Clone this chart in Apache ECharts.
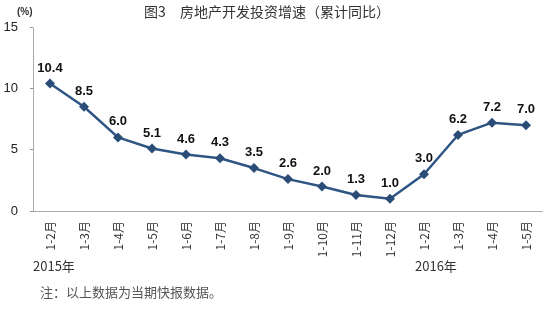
<!DOCTYPE html>
<html><head><meta charset="utf-8">
<script src="https://cdn.jsdelivr.net/npm/echarts@6/dist/echarts.min.js"></script>
<style>html,body{margin:0;padding:0;background:#fff}#c{width:550px;height:335px}</style>
</head><body><div id="c"></div>
<script>
const categories = ['1-2月','1-3月','1-4月','1-5月','1-6月','1-7月','1-8月','1-9月','1-10月','1-11月','1-12月','1-2月','1-3月','1-4月','1-5月'];
const growth = [10.4, 8.5, 6.0, 5.1, 4.6, 4.3, 3.5, 2.6, 2.0, 1.3, 1.0, 3.0, 6.2, 7.2, 7.0];
const yTicks = [0, 5, 10, 15];
const titleText = '图3　房地产开发投资增速（累计同比）';
const unitText = '(%)';
const yearLabels = ['2015年', '2016年'];
const noteText = '注：以上数据为当期快报数据。';

const chart = echarts.init(document.getElementById('c'));
const cjk = '"Noto Sans CJK SC", sans-serif';
chart.setOption({
  animation: false,
  title: {text: titleText, left: 262, top: 0, textAlign: 'center',
    textStyle: {fontSize: 14, fontWeight: 'normal', color: '#333', fontFamily: cjk}},
  grid: {left: 33, right: 7, top: 27, bottom: 124, containLabel: false},
  xAxis: {
    type: 'category', data: categories, boundaryGap: true,
    axisLine: {lineStyle: {color: '#999', type: 'dotted', width: 1}},
    axisTick: {inside: true, length: 3, lineStyle: {color: '#999'}},
    axisLabel: {rotate: 90, margin: 10, fontSize: 12, color: '#333', fontFamily: cjk, interval: 0}
  },
  yAxis: {
    type: 'value', min: yTicks[0], max: yTicks[yTicks.length-1], interval: 5,
    axisLine: {show: true, lineStyle: {color: '#999', type: 'dotted', width: 1}},
    axisTick: {show: true, length: 3, lineStyle: {color: '#999'}},
    splitLine: {show: false},
    axisLabel: {fontSize: 13, color: '#222', fontFamily: 'Arial, "Liberation Sans", sans-serif', margin: 15}
  },
  graphic: [
    {type: 'text', left: 17, top: 7, style: {text: unitText, fontSize: 10, fontWeight: 'bold', fill: '#333', fontFamily: 'Arial, "Liberation Sans", sans-serif'}},
    {type: 'text', left: 33, top: 260, style: {text: yearLabels[0], fontSize: 13, fill: '#333', fontFamily: cjk}},
    {type: 'text', left: 415, top: 260, style: {text: yearLabels[1], fontSize: 13, fill: '#333', fontFamily: cjk}},
    {type: 'text', left: 40, top: 286, style: {text: noteText, fontSize: 13, fill: '#555', fontFamily: cjk}}
  ],
  series: [{
    type: 'line', data: growth,
    symbol: 'diamond', symbolSize: 10,
    lineStyle: {color: '#2e5583', width: 2.5},
    itemStyle: {color: '#2a4d78'},
    label: {show: true, position: 'top', distance: 4, fontSize: 13, fontWeight: 'bold', color: '#111',
      fontFamily: 'Arial, "Liberation Sans", sans-serif',
      formatter: p => p.value.toFixed(1)}
  }]
});
</script></body></html>
